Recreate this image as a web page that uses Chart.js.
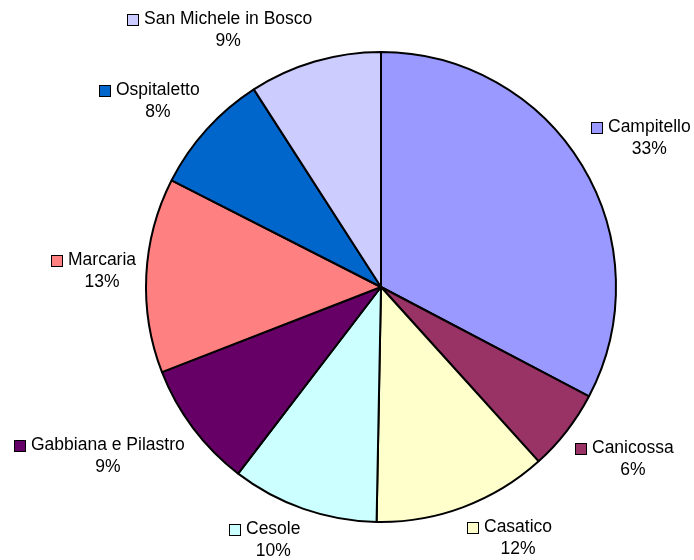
<!DOCTYPE html>
<html>
<head>
<meta charset="utf-8">
<script src="https://cdn.jsdelivr.net/npm/chart.js@4/dist/chart.umd.min.js"></script>
<style>
  html, body { margin: 0; padding: 0; background: #fff; }
  #wrap { width: 694px; height: 560px; }
</style>
</head>
<body>
<div id="wrap"><canvas id="chart" width="694" height="560"></canvas></div>
<script>
// values (percent of total)
const categories = ['Campitello', 'Canicossa', 'Casatico', 'Cesole', 'Gabbiana e Pilastro', 'Marcaria', 'Ospitaletto', 'San Michele in Bosco'];
const shares = [32.7, 5.6, 12.0, 10.1, 8.7, 13.4, 8.4, 9.1];
const sliceColors = ['#9999FF', '#993366', '#FFFFCC', '#CCFFFF', '#660066', '#FF8080', '#0066CC', '#CCCCFF'];

const FONT = '17.5px "Liberation Sans", Arial, sans-serif';

// Excel-like labels: coloured key square, name, percentage under it
const outsideLabels = {
  id: 'outsideLabels',
  afterDatasetsDraw(chart) {
    const ctx = chart.ctx;
    const meta = chart.getDatasetMeta(0);
    const total = shares.reduce((a, b) => a + b, 0);
    ctx.save();
    ctx.font = FONT;
    ctx.textBaseline = 'middle';
    meta.data.forEach((arc, i) => {
      const p = arc.getProps(['x', 'y', 'startAngle', 'endAngle', 'outerRadius'], true);
      const mid = (p.startAngle + p.endAngle) / 2;
      const cx = Math.cos(mid), cy = Math.sin(mid);
      const ax = p.x + cx * (p.outerRadius + 10);
      const ay = p.y + cy * (p.outerRadius + 10);

      const name = categories[i];
      const pct = Math.round(shares[i] / total * 100) + '%';
      const sq = 11, gap = 6, lineH = 22;
      const nameW = ctx.measureText(name).width;
      const w = sq + gap + nameW;
      const h = lineH * 2;

      // pick the box corner nearest the pie, blend when near an axis
      const sx = Math.max(-1, Math.min(1, cx * 5));
      const sy = Math.max(-1, Math.min(1, cy * 3));
      const left = Math.round(ax - w * (1 - sx) / 2);
      const top = Math.round(ay - h * (1 - sy) / 2);

      const y1 = top + lineH / 2;
      const y2 = top + lineH * 1.5;
      const sqTop = Math.round(y1 - sq / 2) + 0.5;
      ctx.fillStyle = sliceColors[i];
      ctx.fillRect(left + 0.5, sqTop, sq, sq);
      ctx.strokeStyle = '#000';
      ctx.lineWidth = 1;
      ctx.strokeRect(left + 0.5, sqTop, sq, sq);
      ctx.fillStyle = '#000';
      ctx.textAlign = 'left';
      ctx.fillText(name, left + sq + gap, y1);
      ctx.textAlign = 'center';
      ctx.fillText(pct, left + sq + gap + nameW / 2, y2);
    });
    ctx.restore();
  }
};

new Chart(document.getElementById('chart'), {
  type: 'pie',
  data: {
    labels: categories,
    datasets: [{
      data: shares,
      backgroundColor: sliceColors,
      borderColor: '#000',
      borderWidth: 2
    }]
  },
  options: {
    responsive: false,
    animation: false,
    layout: { padding: { left: 145, right: 77, top: 51, bottom: 37 } },
    plugins: {
      legend: { display: false },
      tooltip: { enabled: false }
    }
  },
  plugins: [outsideLabels]
});
</script>
</body>
</html>
